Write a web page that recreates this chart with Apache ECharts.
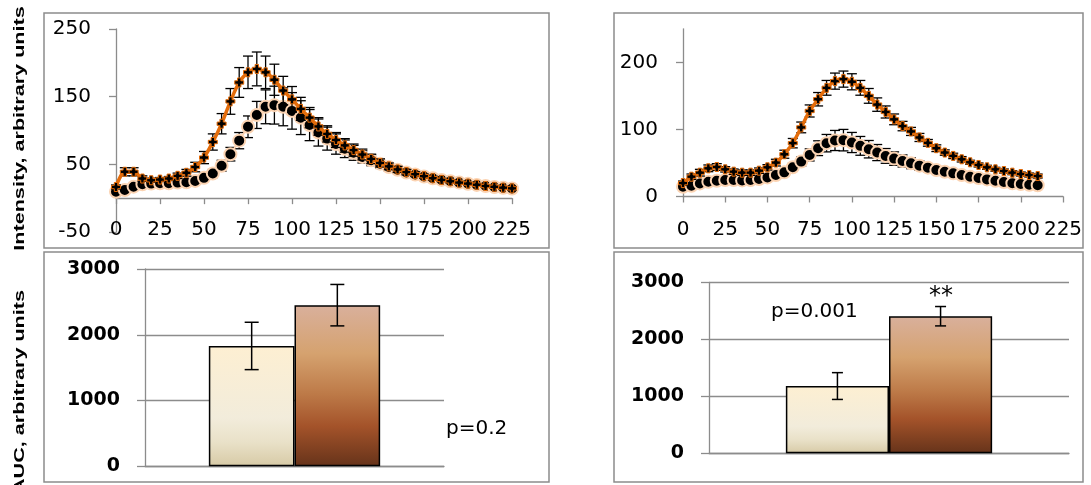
<!DOCTYPE html>
<html>
<head>
<meta charset="utf-8">
<script src="https://cdn.jsdelivr.net/npm/echarts@6/dist/echarts.min.js"></script>
<style>
html,body{margin:0;padding:0;background:#fff;}
#c{width:1091px;height:485px;}
</style>
</head>
<body>
<div id="c"></div>
<script>
// ---------- DATA ----------
// Top-left panel
const tlTime = [0,5,10,15,20,25,30,35,40,45,50,55,60,65,70,75,80,85,90,95,100,105,110,115,120,125,130,135,140,145,150,155,160,165,170,175,180,185,190,195,200,205,210,215,220,225];
const tlCircle = [9.5,12,17,20.5,21.5,22,22,23,23.5,25.5,30,36.5,48,65,85,105.5,123,135,137.5,135,129,119,108,97,88,80,73,67,61,56,51,46,42,38,35,32,29.5,27,25,23,21.3,19.6,18,16.6,15.3,14.3];
const tlCircleErr = [2,2,3,3,3,3,3,3,3,4,5,6,8,10,12,16,20,25,28,28,27,25,23,20,17,15,13,11,9,8,7,6,5,4.5,4,3.5,3,3,2.5,2.5,2,2,2,2,2,2];
const tlOrange = [16.5,39,39,29,26.5,27.5,29,33,37.5,46,60,83,110,143,171,186,191,186,175,159,146,132,119,106,95,86,78,71,64.5,58,52,47,42.5,38.5,35.5,32.5,29.5,27,25,23,21.5,19.8,18,16.8,15.5,14.5];
const tlOrangeErr = [3,6,6,4,3,3,3,4,5,7,9,12,15,19,22,24,25,24,23,21,19,17,15,13,12,11,10,9,8,7,6,5,4.5,4,3.5,3,3,2.5,2.5,2,2,2,2,2,2,2];
// Top-right panel
const trTime = [0,5,10,15,20,25,30,35,40,45,50,55,60,65,70,75,80,85,90,95,100,105,110,115,120,125,130,135,140,145,150,155,160,165,170,175,180,185,190,195,200,205,210];
const trCircle = [14.5,16,19.5,22,23.5,24.5,24.5,24,24.5,26,28.5,32,36,43.5,52,62,72,79.5,83.5,84,80.5,75.5,70.5,65.5,60.5,56.5,53,49.5,46,43,39.5,37,34.5,32,29.5,27.5,25.5,23.5,21.5,19.8,18.7,17.6,16.7];
const trCircleErr = [2,2,3,3,3,3,3,3,3,3,3,4,5,6,7,9,11,13,15,16,15,14,13,12,11,10,9,8,7,6,5,5,4,4,4,3,3,3,3,3,3,3,3];
const trOrange = [20,29.5,35.5,42,44,40.5,37,35.5,35.5,38.5,43.5,50.5,63,79.5,103,127.5,145,162,172,175,171,162,150,137,126,115,105,97,88,80,72,65.5,60.5,55.5,51,47,43.5,40.5,38,35.5,33.5,32,30.5];
const trOrangeErr = [3,4,5,5,5,4,4,4,4,4,4,5,6,7,8,9,10,11,12,12,12,11,11,10,9,8,7,6,6,5,5,4,4,4,3,3,3,3,3,3,3,3,3];
// Bottom panels (AUC)
const aucLeft = [1830, 2450];
const aucLeftErr = [360, 315];
const aucRight = [1180, 2405];
const aucRightErr = [235, 170];
// Tick settings
const tlYTicks = [-50, 50, 150, 250];
const trYTicks = [0, 100, 200];
const aucTicks = [0, 1000, 2000, 3000];
const texts = {tlTitle: 'Intensity, arbitrary units', blTitle: 'AUC, arbitrary units', pLeft: 'p=0.2', pRight: 'p=0.001', star: '**'};

// ---------- STYLE ----------
const GRAY = '#8c8c8c';
const ORANGE = '#E46C0A';
const PEACH = '#FBD3B2';
const FONT = 'DejaVu Sans';
const GAP = 0.427;

const pairs = (xs, ys) => xs.map((x, i) => [x, ys[i]]);
const errs = (xs, ys, es) => xs.map((x, i) => [x, ys[i] - es[i], ys[i] + es[i]]);

function errRender(cap) {
  return function (params, api) {
    const x = api.value(0);
    const lo = api.coord([x, api.value(1)]);
    const hi = api.coord([x, api.value(2)]);
    const st = {stroke: '#000', lineWidth: 1.3};
    return {type: 'group', children: [
      {type: 'line', shape: {x1: lo[0], y1: lo[1], x2: hi[0], y2: hi[1]}, style: st},
      {type: 'line', shape: {x1: lo[0] - cap, y1: lo[1], x2: lo[0] + cap, y2: lo[1]}, style: st},
      {type: 'line', shape: {x1: hi[0] - cap, y1: hi[1], x2: hi[0] + cap, y2: hi[1]}, style: st}
    ]};
  };
}
function barErrRender(cap) {
  return function (params, api) {
    const side = api.value(3);
    const band = api.size([1, 0])[0];
    const bw = band * (1 - GAP) / 2;
    const lo = api.coord([0, api.value(1)]);
    const hi = api.coord([0, api.value(2)]);
    const x = lo[0] + side * bw / 2;
    const st = {stroke: '#000', lineWidth: 1.5};
    return {type: 'group', children: [
      {type: 'line', shape: {x1: x, y1: lo[1], x2: x, y2: hi[1]}, style: st},
      {type: 'line', shape: {x1: x - cap, y1: lo[1], x2: x + cap, y2: lo[1]}, style: st},
      {type: 'line', shape: {x1: x - cap, y1: hi[1], x2: x + cap, y2: hi[1]}, style: st}
    ]};
  };
}
const barErrData = (m, e) => [[0, m[0] - e[0], m[0] + e[0], -1], [0, m[1] - e[1], m[1] + e[1], 1]];

const lightGrad = {type: 'linear', x: 0, y: 0, x2: 0, y2: 1, colorStops: [
  {offset: 0, color: '#FDEFD2'}, {offset: 0.6, color: '#F2ECDB'}, {offset: 0.8, color: '#E9E1C8'}, {offset: 1, color: '#D7CAA6'}]};
const darkGrad = {type: 'linear', x: 0, y: 0, x2: 0, y2: 1, colorStops: [
  {offset: 0, color: '#D9B09C'}, {offset: 0.3, color: '#D5A26F'}, {offset: 0.55, color: '#BD7A48'}, {offset: 0.75, color: '#A4532A'}, {offset: 1, color: '#66331A'}]};

const valLabel = {fontFamily: FONT, fontSize: 20, color: '#000'};
const boldLabel = {fontFamily: FONT, fontSize: 19, fontWeight: 'bold', color: '#000', margin: 25, formatter: v => String(v)};
const axLine = {show: true, lineStyle: {color: GRAY, width: 1.3}};

const plusPath = 'path://M2.5,0H5.5V2.5H8V5.5H5.5V8H2.5V5.5H0V2.5H2.5Z';

const option = {
  animation: false,
  grid: [
    {left: 116, top: 29, width: 396, height: 203},
    {left: 683, top: 28.8, width: 380, height: 167.7},
    {left: 145, top: 269, width: 299, height: 197.3},
    {left: 709, top: 282.3, width: 360, height: 171}
  ],
  xAxis: [
    {gridIndex: 0, type: 'value', min: 0, max: 225, interval: 25,
     axisLine: {show: true, onZero: true, lineStyle: {color: GRAY, width: 1.3}},
     axisTick: {show: true, length: 6, lineStyle: {color: GRAY, width: 1.3}},
     axisLabel: Object.assign({margin: -12}, valLabel), splitLine: {show: false}},
    {gridIndex: 1, type: 'value', min: 0, max: 225, interval: 25,
     axisLine: {show: true, onZero: true, lineStyle: {color: GRAY, width: 1.3}},
     axisTick: {show: true, length: 6, lineStyle: {color: GRAY, width: 1.3}},
     axisLabel: Object.assign({margin: 23}, valLabel), splitLine: {show: false}},
    {gridIndex: 2, type: 'category', data: [''], axisLine: axLine, axisTick: {show: false}, axisLabel: {show: false}},
    {gridIndex: 3, type: 'category', data: [''], axisLine: axLine, axisTick: {show: false}, axisLabel: {show: false}}
  ],
  yAxis: [
    {gridIndex: 0, type: 'value', min: tlYTicks[0], max: tlYTicks[3], interval: 100,
     axisLine: axLine, axisTick: {show: true, length: 7, lineStyle: {color: GRAY, width: 1.3}},
     axisLabel: Object.assign({margin: 25}, valLabel), splitLine: {show: false}},
    {gridIndex: 1, type: 'value', min: 0, max: 250, interval: 100,
     axisLine: axLine,
     axisTick: {show: true, length: 7, lineStyle: {color: GRAY, width: 1.3}, customValues: trYTicks},
     axisLabel: Object.assign({margin: 25, customValues: trYTicks}, valLabel), splitLine: {show: false}},
    {gridIndex: 2, type: 'value', min: aucTicks[0], max: aucTicks[3], interval: 1000,
     axisLine: axLine, axisTick: {show: true, length: 8, lineStyle: {color: GRAY, width: 1.3}},
     axisLabel: boldLabel, splitLine: {show: true, lineStyle: {color: GRAY, width: 1.3}}},
    {gridIndex: 3, type: 'value', min: aucTicks[0], max: aucTicks[3], interval: 1000,
     axisLine: axLine, axisTick: {show: true, length: 8, lineStyle: {color: GRAY, width: 1.3}},
     axisLabel: boldLabel, splitLine: {show: true, lineStyle: {color: GRAY, width: 1.3}}}
  ],
  series: [
    // top-left
    {type: 'custom', xAxisIndex: 0, yAxisIndex: 0, renderItem: errRender(5), data: errs(tlTime, tlCircle, tlCircleErr), z: 1},
    {type: 'line', xAxisIndex: 0, yAxisIndex: 0, data: pairs(tlTime, tlCircle), smooth: 0.3,
     symbol: 'circle', symbolSize: 12, lineStyle: {color: PEACH, width: 2},
     itemStyle: {color: '#000', borderColor: PEACH, borderWidth: 2}, z: 2},
    {type: 'custom', xAxisIndex: 0, yAxisIndex: 0, renderItem: errRender(5), data: errs(tlTime, tlOrange, tlOrangeErr), z: 3},
    {type: 'line', xAxisIndex: 0, yAxisIndex: 0, data: pairs(tlTime, tlOrange), smooth: 0.3,
     symbol: plusPath, symbolSize: 9, lineStyle: {color: ORANGE, width: 3.5},
     itemStyle: {color: '#000', borderColor: ORANGE, borderWidth: 1}, z: 4},
    // top-right
    {type: 'custom', xAxisIndex: 1, yAxisIndex: 1, renderItem: errRender(5), data: errs(trTime, trCircle, trCircleErr), z: 1},
    {type: 'line', xAxisIndex: 1, yAxisIndex: 1, data: pairs(trTime, trCircle), smooth: 0.3,
     symbol: 'circle', symbolSize: 12, lineStyle: {color: PEACH, width: 2},
     itemStyle: {color: '#000', borderColor: PEACH, borderWidth: 2}, z: 2},
    {type: 'custom', xAxisIndex: 1, yAxisIndex: 1, renderItem: errRender(5), data: errs(trTime, trOrange, trOrangeErr), z: 3},
    {type: 'line', xAxisIndex: 1, yAxisIndex: 1, data: pairs(trTime, trOrange), smooth: 0.3,
     symbol: plusPath, symbolSize: 9, lineStyle: {color: ORANGE, width: 3.5},
     itemStyle: {color: '#000', borderColor: ORANGE, borderWidth: 1}, z: 4},
    // bottom-left
    {type: 'bar', xAxisIndex: 2, yAxisIndex: 2, data: [aucLeft[0]], barGap: '0%', barCategoryGap: (GAP * 100) + '%',
     itemStyle: {color: lightGrad, borderColor: '#000', borderWidth: 1.5}},
    {type: 'bar', xAxisIndex: 2, yAxisIndex: 2, data: [aucLeft[1]], barGap: '0%', barCategoryGap: (GAP * 100) + '%',
     itemStyle: {color: darkGrad, borderColor: '#000', borderWidth: 1.5}},
    {type: 'custom', xAxisIndex: 2, yAxisIndex: 2, renderItem: barErrRender(7), data: barErrData(aucLeft, aucLeftErr), z: 5},
    // bottom-right
    {type: 'bar', xAxisIndex: 3, yAxisIndex: 3, data: [aucRight[0]], barGap: '0%', barCategoryGap: (GAP * 100) + '%',
     itemStyle: {color: lightGrad, borderColor: '#000', borderWidth: 1.5}},
    {type: 'bar', xAxisIndex: 3, yAxisIndex: 3, data: [aucRight[1]], barGap: '0%', barCategoryGap: (GAP * 100) + '%',
     itemStyle: {color: darkGrad, borderColor: '#000', borderWidth: 1.5}},
    {type: 'custom', xAxisIndex: 3, yAxisIndex: 3, renderItem: barErrRender(5.5), data: barErrData(aucRight, aucRightErr), z: 5}
  ],
  graphic: [
    {type: 'rect', shape: {x: 44, y: 13, width: 505, height: 235}, style: {fill: null, stroke: GRAY, lineWidth: 1.5}, z: 0},
    {type: 'rect', shape: {x: 614, y: 13, width: 469, height: 235}, style: {fill: null, stroke: GRAY, lineWidth: 1.5}, z: 0},
    {type: 'rect', shape: {x: 44, y: 252, width: 505, height: 230}, style: {fill: null, stroke: GRAY, lineWidth: 1.5}, z: 0},
    {type: 'rect', shape: {x: 614, y: 252, width: 469, height: 230}, style: {fill: null, stroke: GRAY, lineWidth: 1.5}, z: 0},
    {type: 'text', x: 20, y: 128.5, rotation: Math.PI / 2, scaleX: 1.44, z: 10,
     style: {text: texts.tlTitle, font: 'bold 15px "Liberation Sans"', fill: '#000', align: 'center', verticalAlign: 'middle'}},
    {type: 'text', x: 20, y: 392, rotation: Math.PI / 2, scaleX: 1.44, z: 10,
     style: {text: texts.blTitle, font: 'bold 15px "Liberation Sans"', fill: '#000', align: 'center', verticalAlign: 'middle'}},
    {type: 'text', x: 426, y: 429, z: 10,
     style: {text: texts.pLeft, font: '20px "DejaVu Sans"', fill: '#000', align: 'left', verticalAlign: 'middle', backgroundColor: '#fff', padding: [2, 2, 2, 20]}},
    {type: 'text', x: 771, y: 311.7, z: 10,
     style: {text: texts.pRight, font: '20px "DejaVu Sans"', fill: '#000', align: 'left', verticalAlign: 'middle'}},
    {type: 'text', x: 941, y: 297, z: 10,
     style: {text: texts.star, font: '24px "DejaVu Sans"', fill: '#000', align: 'center', verticalAlign: 'middle'}}
  ]
};

const chart = echarts.init(document.getElementById('c'), null, {renderer: 'canvas'});
chart.setOption(option);
</script>
</body>
</html>
